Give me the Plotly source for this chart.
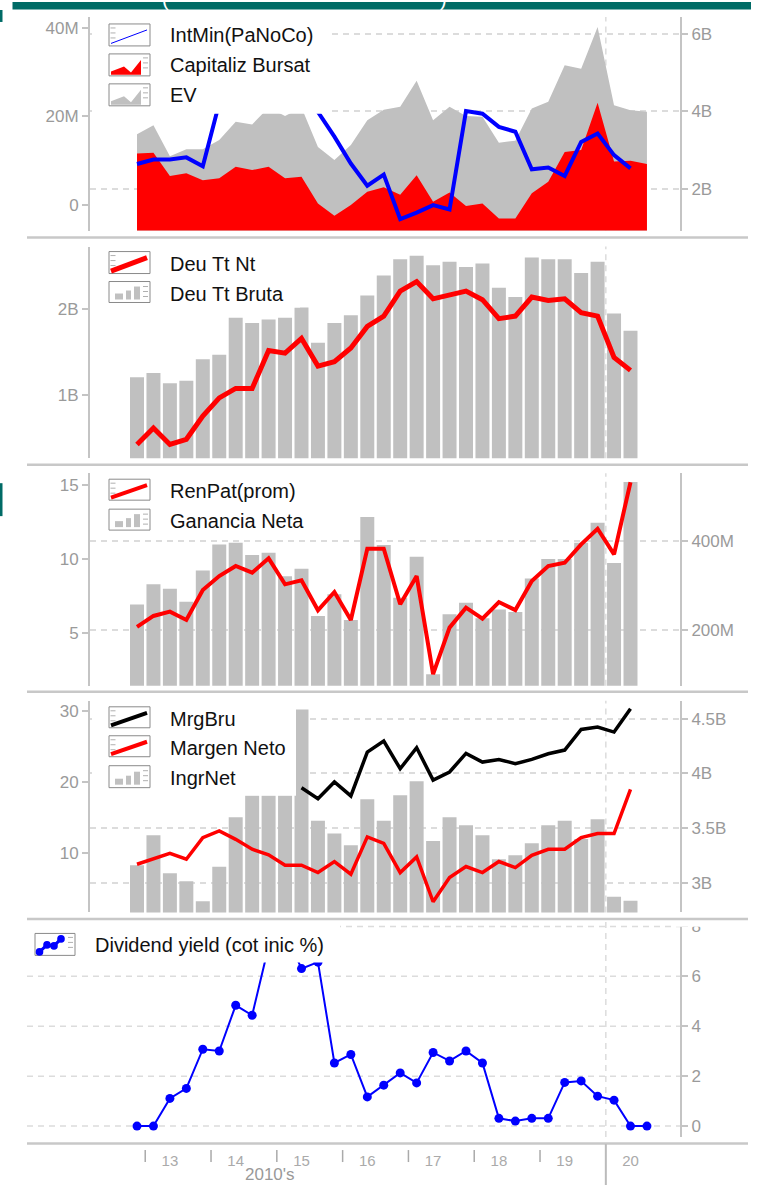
import plotly.graph_objects as go

W, H = 758, 1185
FONT = "Liberation Sans, Arial, Helvetica, sans-serif"
BAR_GRAY = "#c0c0c0"
AXIS_GRAY = "#c4c4c4"
TICK_TXT = "#9a9a9a"
GRID = "#dcdcdc"
RED = "#ff0000"
BLUE = "#0000ff"
TEAL = "#006b66"

# ---------------- data ----------------
quarters = [
    "2012-Q4",
    "2013-Q1", "2013-Q2", "2013-Q3", "2013-Q4",
    "2014-Q1", "2014-Q2", "2014-Q3", "2014-Q4",
    "2015-Q1", "2015-Q2", "2015-Q3", "2015-Q4",
    "2016-Q1", "2016-Q2", "2016-Q3", "2016-Q4",
    "2017-Q1", "2017-Q2", "2017-Q3", "2017-Q4",
    "2018-Q1", "2018-Q2", "2018-Q3", "2018-Q4",
    "2019-Q1", "2019-Q2", "2019-Q3", "2019-Q4",
    "2020-Q1", "2020-Q2", "2020-Q3",
]
year_labels = ["13", "14", "15", "16", "17", "18", "19", "20"]
year_label_quarters = ["2013-Q2", "2014-Q2", "2015-Q2", "2016-Q2",
                       "2017-Q2", "2018-Q2", "2019-Q2", "2020-Q2"]

# Panel 1 (EV & market cap in billions, minority interest in millions)
ev_b = [3.41, 3.64, 2.84, 3.02, 3.02, 3.26, 3.73, 3.66, 4.10, 3.88, 4.10, 3.08,
        2.74, 3.13, 3.77, 4.04, 4.12, 4.79, 3.77, 4.12, 3.88, 3.86, 3.19, 3.24,
        4.07, 4.25, 5.19, 5.10, 6.18, 4.16, 4.03, 3.99]
cap_bursat_b = [2.91, 2.93, 2.33, 2.40, 2.22, 2.27, 2.57, 2.48, 2.57, 2.27, 2.31, 1.62,
                1.30, 1.58, 1.92, 2.04, 1.84, 2.35, 1.66, 1.90, 1.55, 1.62, 1.23, 1.23,
                1.88, 2.18, 2.95, 3.00, 4.22, 2.70, 2.72, 2.64]
int_min_m = [9.2, 10.2, 10.2, 10.7, 8.7, 23.0, 28.0, 30.0, 29.0, 27.0, 25.0, 21.0,
             15.4, 9.3, 4.3, 6.8, -3.3, -1.8, -0.1, -1.1, 21.2, 20.6, 17.6, 16.5,
             8.0, 8.4, 6.5, 14.2, 16.1, 11.2, 8.2]

# Panel 2 (billions)
deu_tt_bruta_b = [1.21, 1.26, 1.14, 1.17, 1.42, 1.47, 1.90, 1.84, 1.88, 1.90, 2.02, 1.61,
                  1.84, 1.93, 2.16, 2.39, 2.58, 2.62, 2.51, 2.55, 2.49, 2.53, 2.25, 2.14,
                  2.60, 2.58, 2.58, 2.42, 2.55, 1.95, 1.75]
deu_tt_nt_b = [0.43, 0.62, 0.43, 0.49, 0.76, 0.97, 1.08, 1.08, 1.52, 1.49, 1.66, 1.34,
               1.39, 1.55, 1.80, 1.92, 2.21, 2.32, 2.12, 2.17, 2.21, 2.11, 1.89, 1.92,
               2.14, 2.10, 2.12, 1.96, 1.92, 1.44, 1.29]

# Panel 3
ganancia_neta_m = [257, 302, 292, 263, 333, 391, 395, 368, 373, 320, 337, 231,
                   280, 222, 453, 390, 272, 364, 101, 235, 261, 226, 246, 240,
                   315, 359, 359, 395, 440, 350, 531]
ren_pat = [5.41, 6.15, 6.44, 5.88, 7.91, 8.85, 9.53, 9.08, 10.05, 8.29, 8.56, 6.53,
           7.77, 5.88, 10.70, 10.70, 6.94, 8.85, 2.21, 5.36, 6.71, 5.97, 7.09, 6.55,
           8.51, 9.53, 9.75, 10.99, 12.05, 10.32, 15.20]

# Panel 4
ingr_net_b = [3.161, 3.434, 3.088, 3.015, 2.832, 3.146, 3.599, 3.80, 3.80, 3.80, 4.584, 3.566,
              3.450, 3.343, 3.763, 3.566, 3.80, 3.927, 3.383, 3.599, 3.526, 3.434, 3.215, 3.252,
              3.361, 3.526, 3.566, 3.40, 3.58, 2.872, 2.836]
margen_neto = [8.35, 9.06, 9.90, 9.06, 12.11, 13.05, 11.87, 10.47, 9.68, 8.21, 8.21, 7.18,
               8.73, 6.94, 12.21, 11.31, 7.18, 9.39, 3.06, 6.48, 8.03, 7.18, 8.73, 7.89,
               9.62, 10.47, 10.47, 12.11, 12.68, 12.68, 18.92]
mrg_bru = [None, None, None, None, None, None, None, None, None, None, 19.15, 17.61,
           19.96, 17.99, 24.18, 25.73, 21.83, 24.79, 20.23, 21.37, 23.99, 22.77, 23.14, 22.54,
           23.14, 23.94, 24.46, 27.37, 27.70, 27.00, 30.28]

# Panel 5
dividend_yield = [0, 0, 1.11, 1.51, 3.08, 3.01, 4.84, 4.44, 7.2, 7.8, 6.31, 6.57,
                  2.53, 2.87, 1.17, 1.64, 2.13, 1.73, 2.95, 2.61, 3.01, 2.53, 0.31, 0.20,
                  0.31, 0.31, 1.75, 1.81, 1.20, 1.04, 0, 0]

n_bar = len(deu_tt_bruta_b)
q_bar = quarters[:n_bar]


# ---------------- helpers ----------------
def px(xp):
    return xp / W


def py(yp):
    return 1 - yp / H


def dom(top, bottom):
    return [py(bottom), py(top)]


fig = go.Figure()

# Panel 1
fig.add_trace(go.Scatter(name="EV", x=quarters, y=ev_b, mode="lines", line=dict(width=0, color=BAR_GRAY),
                         fill="tozeroy", fillcolor=BAR_GRAY, xaxis="x", yaxis="y", hoverinfo="skip"))
fig.add_trace(go.Scatter(name="Capitaliz Bursat", x=quarters, y=cap_bursat_b, mode="lines",
                         line=dict(width=0, color=RED), fill="tozeroy", fillcolor=RED,
                         xaxis="x", yaxis="y", hoverinfo="skip"))
fig.add_trace(go.Scatter(name="IntMin(PaNoCo)", x=q_bar, y=int_min_m, mode="lines",
                         line=dict(color=BLUE, width=4), xaxis="x", yaxis="y6"))

# Panel 2
fig.add_trace(go.Bar(name="Deu Tt Bruta", x=q_bar, y=deu_tt_bruta_b, width=0.85,
                     marker=dict(color=BAR_GRAY, line=dict(width=0)), xaxis="x2", yaxis="y2"))
fig.add_trace(go.Scatter(name="Deu Tt Nt", x=q_bar, y=deu_tt_nt_b, mode="lines",
                         line=dict(color=RED, width=5), xaxis="x2", yaxis="y2"))

# Panel 3
fig.add_trace(go.Bar(name="Ganancia Neta", x=q_bar, y=ganancia_neta_m, width=0.85,
                     marker=dict(color=BAR_GRAY, line=dict(width=0)), xaxis="x3", yaxis="y3"))
fig.add_trace(go.Scatter(name="RenPat(prom)", x=q_bar, y=ren_pat, mode="lines",
                         line=dict(color=RED, width=4), xaxis="x3", yaxis="y7"))

# Panel 4
fig.add_trace(go.Bar(name="IngrNet", x=q_bar, y=ingr_net_b, width=0.85,
                     marker=dict(color=BAR_GRAY, line=dict(width=0)), xaxis="x4", yaxis="y4"))
fig.add_trace(go.Scatter(name="Margen Neto", x=q_bar, y=margen_neto, mode="lines",
                         line=dict(color=RED, width=3.5), xaxis="x4", yaxis="y8"))
fig.add_trace(go.Scatter(name="MrgBru", x=q_bar, y=mrg_bru, mode="lines",
                         line=dict(color="#000000", width=3.5), xaxis="x4", yaxis="y8"))

# Panel 5
fig.add_trace(go.Scatter(name="Dividend yield (cot inic %)", x=quarters, y=dividend_yield,
                         mode="lines+markers", line=dict(color=BLUE, width=2),
                         marker=dict(color=BLUE, size=9), xaxis="x5", yaxis="y5"))

# ---------------- axes ----------------
x_lo = (90 - 137) / 16.45
x_hi = (680 - 137) / 16.45
tickfont = dict(family=FONT, size=17, color=TICK_TXT)


def xax(anchor, show=False):
    d = dict(type="category", categoryorder="array", categoryarray=quarters,
             range=[x_lo, x_hi], domain=[px(90), px(680)], anchor=anchor,
             showgrid=False, zeroline=False, showline=False, showticklabels=show,
             ticks="", fixedrange=True)
    return d


def yax(domain_, rng, tvals, ttext, side, anchor, grid=False, overlay=None):
    d = dict(range=rng, tickvals=tvals, ticktext=ttext, side=side, anchor=anchor,
             showgrid=grid, gridcolor=GRID, griddash="6px,5px", gridwidth=1.5,
             zeroline=False, showline=True, linecolor=AXIS_GRAY, linewidth=2,
             ticks="outside", ticklen=6, tickwidth=2, tickcolor=AXIS_GRAY,
             tickfont=tickfont, fixedrange=True)
    if overlay:
        d["overlaying"] = overlay
    else:
        d["domain"] = domain_
    return d


x5 = xax("y5", show=True)
x5.update(tickvals=year_label_quarters, ticktext=year_labels, ticks="outside", ticklen=10,
          tickcolor="rgba(0,0,0,0)", tickfont=dict(family=FONT, size=15, color="#aaaaaa"))

fig.update_layout(
    width=W, height=H, margin=dict(l=0, r=0, t=0, b=0, pad=0),
    paper_bgcolor="white", plot_bgcolor="white", showlegend=False,
    font=dict(family=FONT),
    xaxis=xax("y"), xaxis2=xax("y2"), xaxis3=xax("y3"), xaxis4=xax("y4"), xaxis5=x5,
    yaxis=yax(dom(15, 229), [0.916, 6.439], [2, 4, 6], ["2B", "4B", "6B"], "right", "x", grid=True),
    yaxis6=yax(None, [-5.88, 42.49], [0, 20, 40], ["0", "20M", "40M"], "left", "x", overlay="y"),
    yaxis2=yax(dom(245, 457), [0.270, 2.7265], [1, 2], ["1B", "2B"], "left", "x2"),
    yaxis3=yax(dom(472, 685), [74.9, 550.8], [200, 400], ["200M", "400M"], "right", "x3", grid=True),
    yaxis7=yax(None, [1.42, 15.81], [5, 10, 15], ["5", "10", "15"], "left", "x3", overlay="y3"),
    yaxis4=yax(dom(700, 912), [2.729, 4.663], [3, 3.5, 4, 4.5], ["3B", "3.5B", "4B", "4.5B"],
               "right", "x4", grid=True),
    yaxis8=yax(None, [1.55, 31.41], [10, 20, 30], ["10", "20", "30"], "left", "x4", overlay="y4"),
    yaxis5=yax(dom(919, 1137), [-0.44, 8.28], [0, 2, 4, 6, 8], ["0", "2", "4", "6", "8"], "right", "x5"),
)

# ---------------- shapes ----------------
shapes = []


def rect_px(x0, y0, x1, y1, fill, line_color=None, lw=0, layer="above"):
    shapes.append(dict(type="rect", xref="paper", yref="paper", x0=px(x0), x1=px(x1),
                       y0=py(y1), y1=py(y0), fillcolor=fill, layer=layer,
                       line=dict(color=line_color or fill, width=lw)))


def line_px(x0, y0, x1, y1, color, width, dash=None, layer="above"):
    ln = dict(color=color, width=width)
    if dash:
        ln["dash"] = dash
    shapes.append(dict(type="line", xref="paper", yref="paper", x0=px(x0), x1=px(x1),
                       y0=py(y0), y1=py(y1), line=ln, layer=layer))


def path_px(points, fill, line_color=None, lw=0, closed=True):
    d = "M " + " L ".join(f"{px(a):.5f},{py(b):.5f}" for a, b in points)
    if closed:
        d += " Z"
    shapes.append(dict(type="path", xref="paper", yref="paper", path=d,
                       fillcolor=fill if closed else None, layer="above",
                       line=dict(color=line_color or fill, width=lw)))


# vertical dashed 2019/2020 boundary in each panel
boundary = quarters.index("2020-Q1") - 0.5
for xr, yr in [("x", "y"), ("x2", "y2"), ("x3", "y3"), ("x4", "y4"), ("x5", "y5")]:
    shapes.append(dict(type="line", xref=xr, yref=f"{yr} domain", x0=boundary, x1=boundary,
                       y0=0, y1=1, layer="below", line=dict(color=GRID, width=1.5, dash="6px,5px")))

# panel 5 gridlines extend across the full width
for v in [0, 2, 4, 6, 8]:
    shapes.append(dict(type="line", xref="paper", yref="y5", x0=px(27), x1=px(680), y0=v, y1=v,
                       layer="below", line=dict(color=GRID, width=1.5, dash="6px,5px")))

# legend backgrounds (cover the plot like the original legend boxes)
rect_px(92, 16, 330, 112, "white")
rect_px(92, 246, 300, 306, "white")
rect_px(92, 473, 300, 534, "white")
rect_px(92, 701, 296, 795, "white")
rect_px(27, 920, 340, 962, "white")
# crop top half of the clipped "8" label
rect_px(676, 919.5, 712, 926.3, "white")

# separators
for yy in [236, 463.5, 691, 918.5, 1143.5]:
    line_px(27, yy, 748, yy, "#c8c8c8", 2.5)

# title bar and edge slivers
rect_px(12.5, 0, 751, 7.5, TEAL)
rect_px(0, 8, 2.5, 20, TEAL)
rect_px(0, 482, 2.5, 515, TEAL)

# x axis year ticks
for lab in year_labels[:-1]:
    xb = quarters.index(f"20{lab}-Q1") - 0.5
    shapes.append(dict(type="line", xref="x5", yref="paper", x0=xb, x1=xb, y0=py(1150), y1=py(1162),
                       line=dict(color="#aaaaaa", width=1.5), layer="above"))
shapes.append(dict(type="line", xref="x5", yref="paper", x0=boundary, x1=boundary, y0=py(1144), y1=py(1185),
                   line=dict(color="#bbbbbb", width=2), layer="above"))


# legend icons
def icon_box(x0, y0, x1, y1):
    rect_px(x0, y0, x1, y1, "white", "#8a8a8a", 1)


def ticks_side(x, y0, step=5, n=3):
    for i in range(n):
        line_px(x, y0 + i * step, x + 5, y0 + i * step, "#b0b0b0", 1)


def line_icon(x0, y0, x1, y1, color, w):
    icon_box(x0, y0, x1, y1)
    ticks_side(x0 + 1.5, y0 + 4)
    line_px(x0 + 2, y1 - 2.5, x1 - 3, y0 + 6, color, w)


def area_icon(x0, y0, x1, y1, color):
    icon_box(x0, y0, x1, y1)
    b = y1 - 1
    path_px([(x0 + 2, b), (x0 + 2, b - 3.5), (x0 + 15, b - 8.5), (x0 + 22, b - 2.5),
             (x0 + 32, b - 15), (x0 + 32, b)], color)
    ticks_side(x1 - 7, y0 + 4)


def bar_icon(x0, y0, x1, y1):
    icon_box(x0, y0, x1, y1)
    b = y1 - 3
    for (a, c, h) in [(x0 + 6, x0 + 14, 6), (x0 + 17, x0 + 22, 9), (x0 + 25, x0 + 31, 13)]:
        rect_px(a, b - h, c, b, BAR_GRAY)
    ticks_side(x1 - 7, y0 + 5)


line_icon(109, 22, 150, 44, BLUE, 1)
area_icon(109, 52, 150, 74, RED)
area_icon(109, 82, 150, 104, BAR_GRAY)
line_icon(109, 250, 150, 272, RED, 5)
bar_icon(109, 280, 150, 301)
line_icon(109, 478, 150, 499, RED, 4)
bar_icon(109, 508, 150, 529)
line_icon(109, 706, 150, 727, "#000000", 4)
line_icon(109, 735, 150, 756, RED, 4)
bar_icon(109, 765, 150, 787)
# dividend yield icon
icon_box(35, 933, 75, 955)
dots = [(39.5, 951.5), (47, 944.5), (54, 945.5), (61, 938.5)]
path_px(dots, BLUE, BLUE, 3, closed=False)
for (cx, cy) in dots:
    shapes.append(dict(type="circle", xref="paper", yref="paper", x0=px(cx - 3.8), x1=px(cx + 3.8),
                       y0=py(cy + 3.8), y1=py(cy - 3.8), fillcolor=BLUE, line=dict(width=0), layer="above"))
ticks_side(68, 937)

fig.update_layout(shapes=shapes)

# ---------------- annotations ----------------
ann = []


def text_px(x, y, s, size=20, color="#111111", xanchor="left"):
    ann.append(dict(xref="paper", yref="paper", x=px(x), y=py(y), text=s, showarrow=False,
                    xanchor=xanchor, yanchor="middle", font=dict(family=FONT, size=size, color=color)))


legend_rows = [
    ("IntMin(PaNoCo)", 33), ("Capitaliz Bursat", 63.5), ("EV", 93.5),
    ("Deu Tt Nt", 262), ("Deu Tt Bruta", 292),
    ("RenPat(prom)", 490), ("Ganancia Neta", 520),
    ("MrgBru", 718), ("Margen Neto", 747), ("IngrNet", 777),
]
for s, yy in legend_rows:
    text_px(168, yy, s)
text_px(93, 945, "Dividend yield (cot inic %)")
text_px(270, 1174, "2010's", size=17, color="#999999", xanchor="center")
text_px(165, -3, "(", size=20, color="white", xanchor="center")
text_px(443, -3, ")", size=20, color="white", xanchor="center")
fig.update_layout(annotations=ann)

fig.write_html("out.html", config={"displayModeBar": False},
               post_script="document.body.style.margin='0';document.body.style.overflow='hidden';")
